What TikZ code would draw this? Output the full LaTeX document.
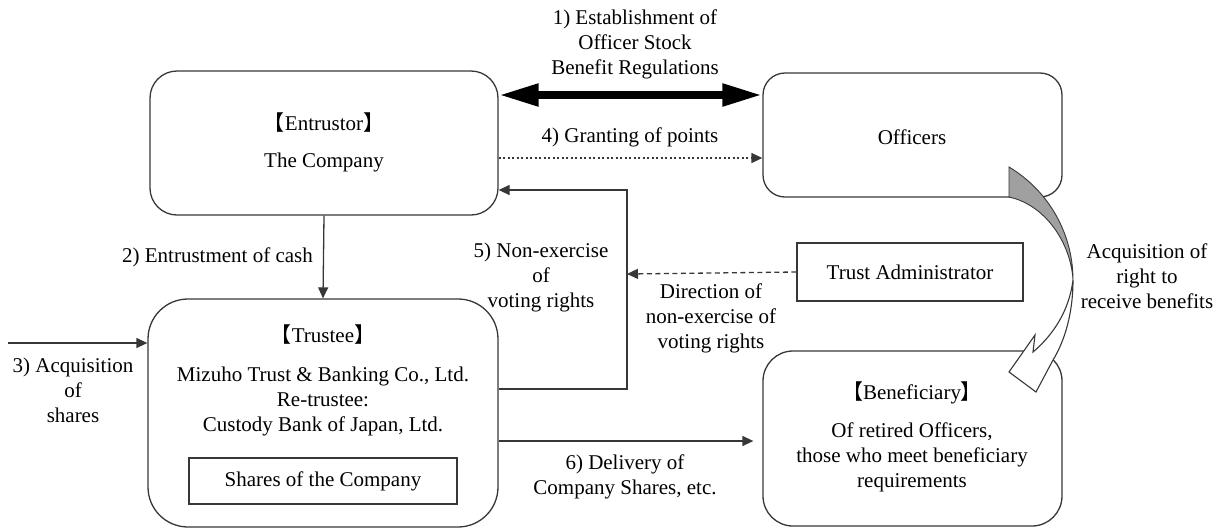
\documentclass[tikz,border=0pt]{standalone}
\usepackage{fontspec}
\setmainfont{Liberation Serif}
\newfontfamily\cjk{Noto Sans CJK JP}
\usetikzlibrary{arrows.meta,calc}
\definecolor{linec}{RGB}{55,55,55}
\definecolor{crescent}{RGB}{160,160,160}
\newcommand{\lbk}{{\cjk 【}}
\newcommand{\rbk}{{\cjk 】}}
\begin{document}
\begin{tikzpicture}[x=1pt,y=-1pt,
  every node/.style={font=\fontsize{21}{25}\selectfont, inner sep=0pt, text=black},
  box/.style={draw=linec, line width=1.3pt, rectangle, rounded corners=#1},
  lbl/.style={align=center},
  conn/.style={draw=linec, line width=1.3pt, -{Triangle[length=11pt,width=10pt]}},
  bigarrow/.style={draw=black, line width=8pt, {Triangle[length=40pt,width=21pt]}-{Triangle[length=40pt,width=21pt]}},
  dottedarrow/.style={conn, dash pattern=on 2pt off 2.5pt},
  dashedarrow/.style={conn, dash pattern=on 5pt off 3.5pt}]
\useasboundingbox (0,0) rectangle (1221,528);

% boxes
\node[box=27pt, minimum width=348pt, minimum height=144pt] (ent) at (324,143) {};
\node[box=22pt, minimum width=299pt, minimum height=124pt] (off) at (912.5,135) {};
\node[box=40pt, minimum width=350pt, minimum height=228pt] (tru) at (323,413) {};
\node[box=30pt, minimum width=299pt, minimum height=175pt] (ben) at (912.5,438.5) {};
\node[box=0pt, minimum width=226pt, minimum height=58pt] (adm) at (910,272) {Trust Administrator};
\node[box=0pt, minimum width=268pt, minimum height=46pt] (shr) at (323,481) {Shares of the Company};

% box texts
\node (entT) at (324,123) {\lbk Entrustor\rbk};
\node (entC) at (324,162) {The Company};
\node (offT) at (912,137) {Officers};
\node (truT) at (323,335) {\lbk Trustee\rbk};
\node[lbl] (truC) at (323,401) {Mizuho Trust \& Banking Co., Ltd.\\Re-trustee:\\Custody Bank of Japan, Ltd.};
\node (benT) at (912,393) {\lbk Beneficiary\rbk};
\node[lbl] (benC) at (912,457) {Of retired Officers,\\those who meet beneficiary\\requirements};

% labels
\node[lbl] (l1) at (635,44) {1) Establishment of\\Officer Stock\\Benefit Regulations};
\node (l4) at (630,137) {4) Granting of points};
\node[anchor=east] (l2) at (313,257) {2) Entrustment of cash};
\node[lbl] (l5) at (541,277) {5) Non-exercise\\of\\voting rights};
\node[lbl] (ld) at (711,318) {Direction of\\non-exercise of\\voting rights};
\node[lbl] (l3) at (73,390) {3) Acquisition\\of\\shares};
\node[lbl] (l6) at (625,477) {6) Delivery of\\Company Shares, etc.};
\node[lbl] (la) at (1147,276) {Acquisition of\\right to\\receive benefits};

% connectors
\coordinate (c3) at (8,343);
\coordinate (j5a) at (627,389);
\coordinate (j5b) at (627,190);
\coordinate (jd) at (627,274);

\draw[bigarrow] (ent.east |- 0,95) -- (off.west |- 0,95);
\draw[dottedarrow] (ent.east |- 0,158) -- (off.west |- 0,158);
\draw[conn] (ent.south) -- (tru.north);
\draw[conn] (c3) -- (tru.west |- c3);
\draw[conn] (tru.east |- j5a) -- (j5a) -- (j5b) -- (ent.east |- j5b);
\draw[dashedarrow] (adm.west) -- (jd);
\draw[conn, shorten >=9pt] (tru.east |- 0,441) -- (ben.west |- 0,441);

% curved arrow (acquisition of right)
\filldraw[fill=crescent, draw=linec, line width=0.9pt]
  (1009,167) .. controls (1049,191) and (1073,234) .. (1073,280)
  .. controls (1071,244) and (1046,205) .. (1009,197) -- cycle;
\filldraw[fill=white, draw=linec, line width=1.1pt]
  (1073,280) .. controls (1073,315) and (1064,342) .. (1053,360)
  -- (1036,392) -- (1009,372) -- (1035,335) -- (1033,352)
  .. controls (1052,336) and (1069,312) .. (1073,280) -- cycle;
\end{tikzpicture}
\end{document}
